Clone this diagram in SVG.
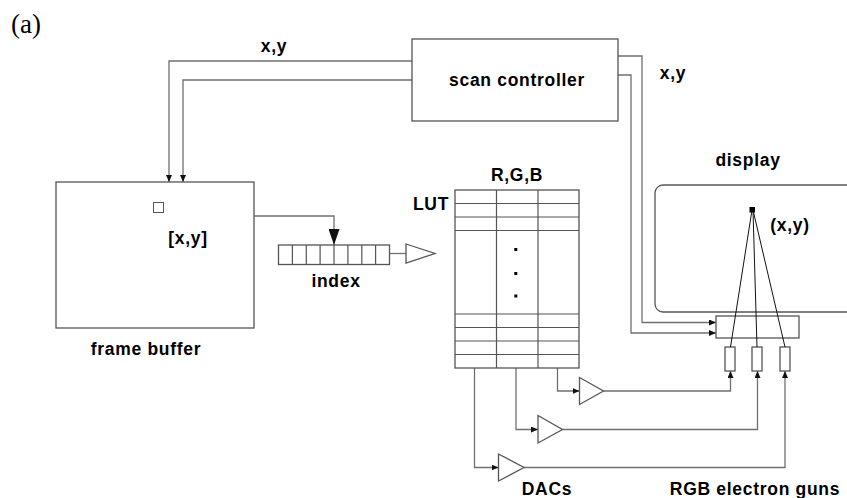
<svg xmlns="http://www.w3.org/2000/svg" width="847" height="498" viewBox="0 0 847 498">
<defs>
<style>
.t{font-family:"Liberation Sans",Arial,sans-serif;font-weight:bold;font-size:17.5px;letter-spacing:0.7px;fill:#000}
.box{fill:#fff;stroke:#555;stroke-width:1.3}
.ln{fill:none;stroke:#707070;stroke-width:1.3}
.grid{fill:none;stroke:#555;stroke-width:1.2}
.beam{fill:none;stroke:#111;stroke-width:1}
</style>
<marker id="ah" markerUnits="userSpaceOnUse" markerWidth="8" markerHeight="6" refX="7" refY="3" orient="auto">
<path d="M0,0 L7,3 L0,6 z" fill="#111"/>
</marker>
<marker id="ahb" markerUnits="userSpaceOnUse" markerWidth="16" markerHeight="11" refX="16" refY="5.5" orient="auto">
<path d="M0,0 L16,5.5 L0,11 z" fill="#111"/>
</marker>
</defs>
<rect width="847" height="498" fill="#fff"/>
<text x="11" y="33" style="font-family:'Liberation Serif','Times New Roman',serif;font-size:27px">(a)</text>

<g id="connectors">
<path class="ln" d="M412,61 H169 V182" marker-end="url(#ah)"/>
<path class="ln" d="M412,80 H183 V182" marker-end="url(#ah)"/>
<path class="ln" d="M618,56 H642 V322.5 H716" marker-end="url(#ah)"/>
<path class="ln" d="M618,75 H631 V333 H716" marker-end="url(#ah)"/>
<path class="ln" d="M254,216 H334 V245" marker-end="url(#ahb)"/>
<path class="ln" d="M389.5,253.5 H406"/>
<polygon class="box" points="406,244 435,253.5 406,263"/>
<path class="ln" d="M557.5,368 V391 H579.5" marker-end="url(#ah)"/>
<path class="ln" d="M516,368 V429.5 H538" marker-end="url(#ah)"/>
<path class="ln" d="M474.5,368 V467.5 H498.5" marker-end="url(#ah)"/>
<path class="ln" d="M603.5,391 H730.5 V371" marker-end="url(#ah)"/>
<path class="ln" d="M562.5,429.5 H757.5 V371" marker-end="url(#ah)"/>
<path class="ln" d="M524,467.5 H785 V371" marker-end="url(#ah)"/>
<text class="t" x="274" y="52" text-anchor="middle">x,y</text>
<text class="t" x="673" y="79" text-anchor="middle">x,y</text>
</g>

<g id="scan-controller">
<rect class="box" x="412" y="39" width="206" height="82"/>
<text class="t" x="517" y="86" text-anchor="middle">scan controller</text>
</g>

<g id="frame-buffer">
<rect class="box" x="56" y="182" width="198" height="146"/>
<rect class="box" x="153.5" y="202.5" width="10" height="10" style="stroke-width:1"/>
<text class="t" x="188" y="244" text-anchor="middle">[x,y]</text>
<text class="t" x="146" y="355" text-anchor="middle">frame buffer</text>
</g>

<g id="index">
<rect class="box" x="278.5" y="245" width="111" height="19.5"/>
<path class="grid" d="M292.4,245V264.5M306.3,245V264.5M320.1,245V264.5M334,245V264.5M347.9,245V264.5M361.8,245V264.5M375.6,245V264.5"/>
<text class="t" x="336" y="286.5" text-anchor="middle">index</text>
</g>

<g id="lut">
<rect class="box" x="455" y="190" width="124" height="178"/>
<path class="grid" d="M496.5,190V368M538,190V368M455,203.5H579M455,217H579M455,230.5H579M455,314H579M455,327.5H579M455,341H579M455,354.5H579"/>
<rect x="514.3" y="248" width="3" height="3" fill="#000"/>
<rect x="514.3" y="272" width="3" height="3" fill="#000"/>
<rect x="514.3" y="294.5" width="3" height="3" fill="#000"/>
<text class="t" x="517" y="181" text-anchor="middle">R,G,B</text>
<text class="t" x="431" y="210" text-anchor="middle">LUT</text>
</g>

<g id="dacs">
<polygon class="box" points="579.5,377.5 603.5,391 579.5,404.5"/>
<polygon class="box" points="538,415.5 562.5,429.5 538,443"/>
<polygon class="box" points="498.5,454 524,467.5 498.5,481"/>
<text class="t" x="547" y="495" text-anchor="middle">DACs</text>
</g>

<g id="display">
<rect class="box" x="655" y="185" width="215" height="127" rx="8" style="fill:none"/>
<text class="t" x="748" y="166" text-anchor="middle">display</text>
<rect x="749.5" y="207" width="5.5" height="5.5" fill="#000"/>
<text class="t" x="790" y="231" text-anchor="middle">(x,y)</text>
</g>

<g id="electron-guns">
<rect class="box" x="716" y="316" width="83" height="22" style="fill:none"/>
<rect class="box" x="725" y="347" width="10" height="24"/>
<rect class="box" x="752" y="347" width="10" height="24"/>
<rect class="box" x="780" y="347" width="10" height="24"/>
<path class="beam" d="M752,210 L730.5,347 M753,210 L757,347 M753,210 L785,347"/>
<text class="t" x="755" y="495" text-anchor="middle">RGB electron guns</text>
</g>
</svg>
